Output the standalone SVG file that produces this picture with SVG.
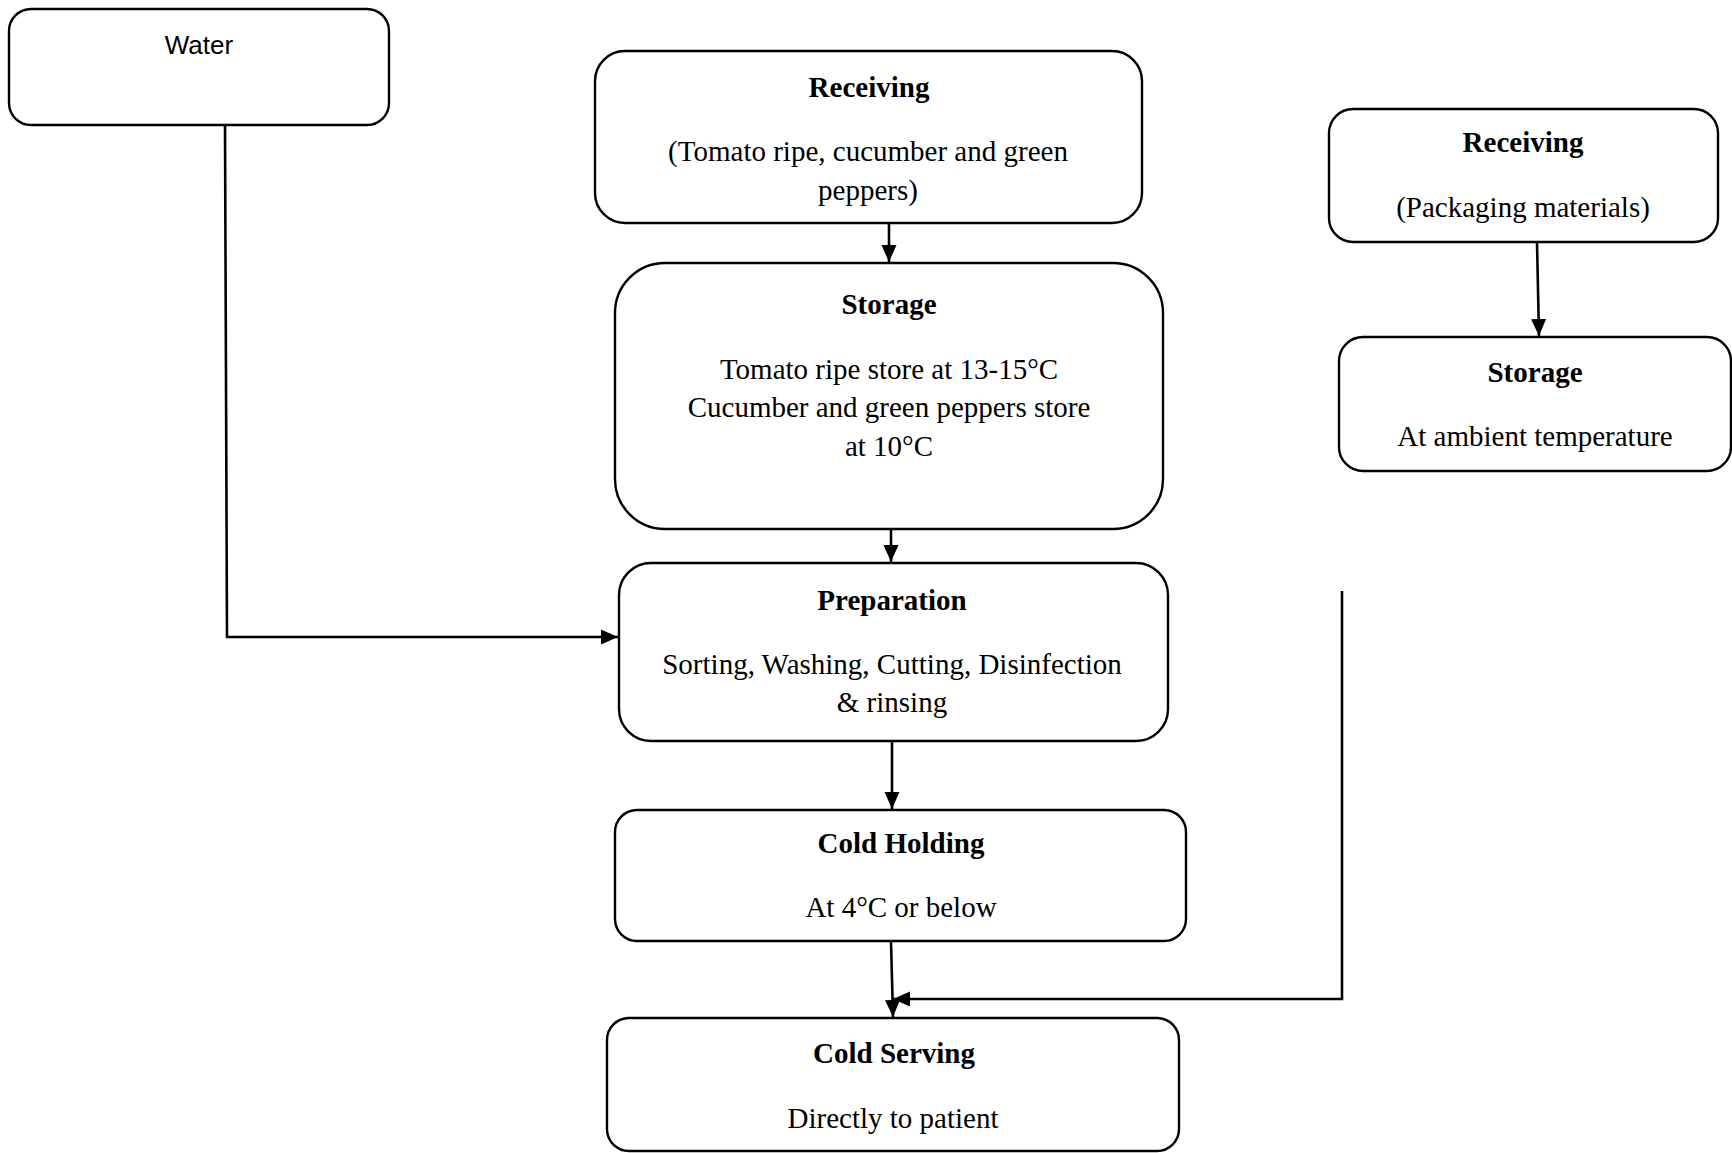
<svg xmlns="http://www.w3.org/2000/svg" width="1732" height="1153" viewBox="0 0 1732 1153">
  <style>
    .box { fill: #ffffff; stroke: #000000; stroke-width: 2.4; }
    .t { font-family: "Liberation Serif", "Times New Roman", serif; font-size: 29px; text-anchor: middle; fill: #000000; }
    .b { font-weight: bold; }
    .s { font-family: "Liberation Sans", Arial, sans-serif; font-size: 26px; text-anchor: middle; fill: #000000; }
    .c { fill: none; stroke: #000000; stroke-width: 2.6; }
  </style>
  <defs>
    <marker id="arrow" markerUnits="userSpaceOnUse" markerWidth="18" markerHeight="18" viewBox="0 0 18 18" refX="17" refY="9" orient="auto">
      <path d="M0,1.5 L17,9 L0,16.5 Z" fill="#000000"/>
    </marker>
  </defs>
  <rect width="1732" height="1153" fill="#ffffff"/>

  <!-- connectors -->
  <g id="connectors">
    <path class="c" d="M225,125 L227,637 L618,637" marker-end="url(#arrow)"/>
    <path class="c" d="M889,223 L889,262" marker-end="url(#arrow)"/>
    <path class="c" d="M891,529 L891,562" marker-end="url(#arrow)"/>
    <path class="c" d="M892,741 L892,809" marker-end="url(#arrow)"/>
    <path class="c" d="M891,941 L893,1017" marker-end="url(#arrow)"/>
    <path class="c" d="M1342,591 L1342,999 L893,999" marker-end="url(#arrow)"/>
    <path class="c" d="M1537,242 L1539,336" marker-end="url(#arrow)"/>
  </g>

  <!-- water supply -->
  <g id="water">
    <rect class="box" x="9" y="9" width="380" height="116" rx="22"/>
    <text class="s" x="199" y="54">Water</text>
  </g>

  <!-- receiving of produce -->
  <g id="receiving-produce">
    <rect class="box" x="595" y="51" width="547" height="172" rx="30"/>
    <text class="t b" x="869" y="97">Receiving</text>
    <text class="t" x="868" y="161">(Tomato ripe, cucumber and green</text>
    <text class="t" x="868" y="200">peppers)</text>
  </g>

  <!-- produce storage -->
  <g id="storage-produce">
    <rect class="box" x="615" y="263" width="548" height="266" rx="50"/>
    <text class="t b" x="889" y="314">Storage</text>
    <text class="t" x="889" y="379">Tomato ripe store at 13-15°C</text>
    <text class="t" x="889" y="417">Cucumber and green peppers store</text>
    <text class="t" x="889" y="456">at 10°C</text>
  </g>

  <!-- preparation -->
  <g id="preparation">
    <rect class="box" x="619" y="563" width="549" height="178" rx="32"/>
    <text class="t b" x="892" y="610">Preparation</text>
    <text class="t" x="892" y="674">Sorting, Washing, Cutting, Disinfection</text>
    <text class="t" x="892" y="712">&amp; rinsing</text>
  </g>

  <!-- cold holding -->
  <g id="cold-holding">
    <rect class="box" x="615" y="810" width="571" height="131" rx="22"/>
    <text class="t b" x="901" y="853">Cold Holding</text>
    <text class="t" x="901" y="917">At 4°C or below</text>
  </g>

  <!-- cold serving -->
  <g id="cold-serving">
    <rect class="box" x="607" y="1018" width="572" height="133" rx="22"/>
    <text class="t b" x="894" y="1063">Cold Serving</text>
    <text class="t" x="893" y="1128">Directly to patient</text>
  </g>

  <!-- receiving of packaging -->
  <g id="receiving-packaging">
    <rect class="box" x="1329" y="109" width="389" height="133" rx="24"/>
    <text class="t b" x="1523" y="152">Receiving</text>
    <text class="t" x="1523" y="217">(Packaging materials)</text>
  </g>

  <!-- packaging storage -->
  <g id="storage-packaging">
    <rect class="box" x="1339" y="337" width="392" height="134" rx="24"/>
    <text class="t b" x="1535" y="382">Storage</text>
    <text class="t" x="1535" y="446">At ambient temperature</text>
  </g>
</svg>
